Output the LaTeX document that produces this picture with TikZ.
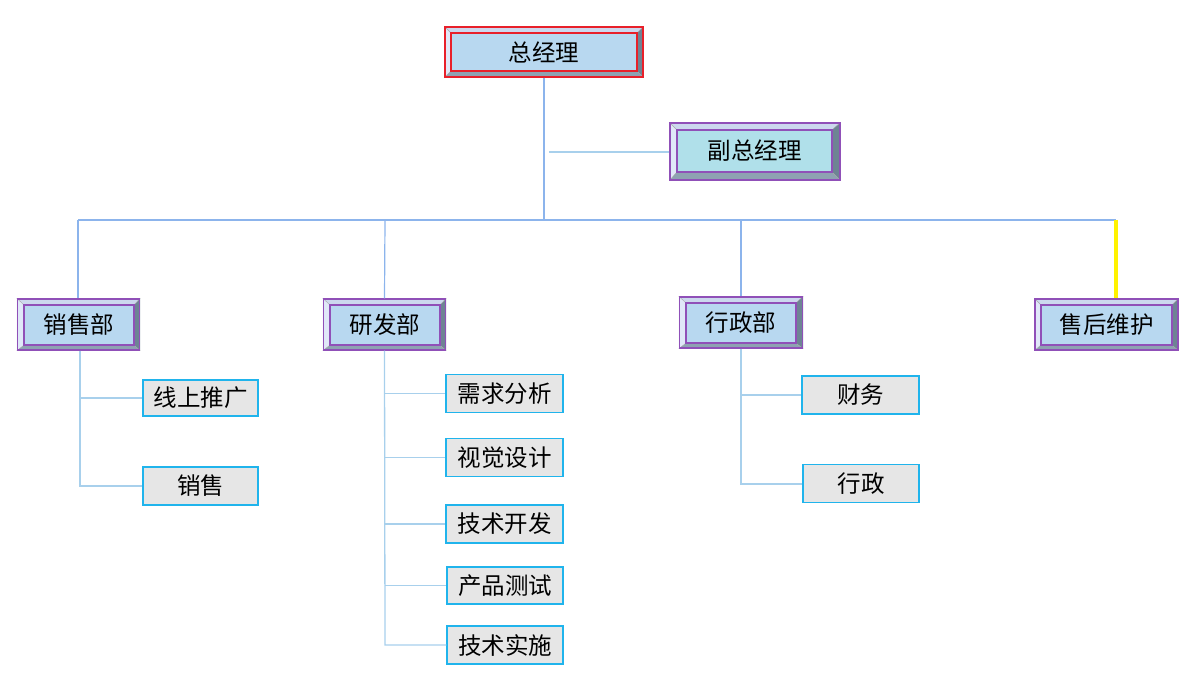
\documentclass[tikz,border=0pt]{standalone}
\usepackage{fontspec}
\setmainfont{Noto Sans CJK SC}
\usetikzlibrary{backgrounds}
\definecolor{bus}{HTML}{8CB4EC}
\definecolor{sub}{HTML}{A8D0EC}
\definecolor{gmred}{HTML}{E8202A}
\definecolor{purp}{HTML}{9050B8}
\definecolor{depfill}{HTML}{B8D8F0}
\definecolor{depfillb}{HTML}{B0E0EA}
\definecolor{leaffill}{HTML}{E6E6E6}
\definecolor{leafline}{HTML}{20B4EC}
\definecolor{bvtop}{HTML}{CCD8EE}
\definecolor{bvleft}{HTML}{E0E8F8}
\definecolor{bvright}{HTML}{6E8494}
\definecolor{bvbot}{HTML}{8EA2B2}
\tikzset{
  outerbox/.style={draw=#1, line width=1.4pt, inner sep=0pt},
  innerbox/.style={draw=#1, line width=1.2pt, inner sep=0pt, font=\fontsize{23.5}{24}\selectfont},
  leafbox/.style={draw=leafline, fill=leaffill, line width=1.3pt, minimum width=116pt, minimum height=38pt, inner sep=0pt, font=\fontsize{23.5}{24}\selectfont},
  busline/.style={draw=bus, line width=1.2pt},
  subline/.style={draw=sub, line width=1.3pt},
}
\newcommand\bevel[1]{%
  \begin{scope}[on background layer]
    \fill[bvtop] (#1o.north west) -- (#1o.north east) -- (#1.north east) -- (#1.north west) -- cycle;
    \fill[bvleft] (#1o.north west) -- (#1.north west) -- (#1.south west) -- (#1o.south west) -- cycle;
    \fill[bvright] (#1o.north east) -- (#1o.south east) -- (#1.south east) -- (#1.north east) -- cycle;
    \fill[bvbot] (#1o.south west) -- (#1.south west) -- (#1.south east) -- (#1o.south east) -- cycle;
    \draw[black!35, line width=0.4pt] (#1o.north west) -- (#1.north west) (#1o.north east) -- (#1.north east)
      (#1o.south west) -- (#1.south west) (#1o.south east) -- (#1.south east);
  \end{scope}}
\begin{document}
\begin{tikzpicture}[x=1pt,y=-1pt]
\useasboundingbox (0,0) rectangle (1200,681);
% general manager
\node[outerbox=gmred, minimum width=198pt, minimum height=50pt] (gmo) at (544,52) {};
\node[innerbox=gmred, fill=depfill, minimum width=186pt, minimum height=38pt] (gm) at (544,52) {总经理};
\bevel{gm}
% deputy
\node[outerbox=purp, minimum width=170pt, minimum height=57pt] (dpo) at (755,151.5) {};
\node[innerbox=purp, fill=depfillb, minimum width=155pt, minimum height=42pt] (dp) at (754.5,151) {副总经理};
\bevel{dp}
% departments
\node[outerbox=purp, minimum width=122pt, minimum height=51pt] (sao) at (78.5,324.5) {};
\node[innerbox=purp, fill=depfill, minimum width=110pt, minimum height=40pt] (sa) at (79,325) {销售部};
\bevel{sa}
\node[outerbox=purp, minimum width=122pt, minimum height=51pt] (rdo) at (384.5,324.5) {};
\node[innerbox=purp, fill=depfill, minimum width=110pt, minimum height=40pt] (rd) at (385,325) {研发部};
\bevel{rd}
\node[outerbox=purp, minimum width=123pt, minimum height=51pt] (ado) at (741,322.5) {};
\node[innerbox=purp, fill=depfill, minimum width=110pt, minimum height=40pt] (ad) at (741,323) {行政部};
\bevel{ad}
\node[outerbox=purp, minimum width=143pt, minimum height=51pt] (aso) at (1106.5,324.5) {};
\node[innerbox=purp, fill=depfill, minimum width=131pt, minimum height=40pt] (as) at (1106.5,325) {售后维护};
\bevel{as}
% leaves
\node[leafbox, minimum width=115pt, minimum height=36pt] (l1) at (200.5,398) {线上推广};
\node[leafbox, minimum width=115pt] (l2) at (200.5,486) {销售};
\node[leafbox, minimum width=117pt] (r1) at (504.5,393.5) {需求分析};
\node[leafbox, minimum width=117pt] (r2) at (504.5,457.5) {视觉设计};
\node[leafbox, minimum width=117pt] (r3) at (504.5,524) {技术开发};
\node[leafbox, minimum height=37pt] (r4) at (505,585.5) {产品测试};
\node[leafbox] (r5) at (505,645) {技术实施};
\node[leafbox, minimum width=117pt] (a1) at (860.5,395) {财务};
\node[leafbox] (a2) at (861,483.5) {行政};
% connectors
\coordinate (bus) at (544,220);
\coordinate (busL) at (78,220);
\coordinate (busR) at (1116,220);
\coordinate (dpstart) at (549,152);
\draw[busline] (gmo.south) -- (bus);
\draw[subline] (dpstart) -- (dpstart -| dpo.west);
\draw[busline] (busL) -- (busR);
\draw[busline] (busL) -- (sao.north -| busL);
\draw[busline] (385,220) -- (rdo.north);
\draw[busline] (741,220) -- (ado.north);
\draw[yellow, line width=4.5pt] (busR) -- (busR |- aso.north);
% sales subtree
\coordinate (sx) at (80,486);
\draw[subline] (sx |- sao.south) -- (sx) -- (l2.west);
\draw[subline] (sx |- l1.west) -- (l1.west);
% R&D subtree
\coordinate (rx) at (385,645);
\draw[subline] (rdo.south) -- (rx) -- (r5.west);
\foreach \n in {r1,r2,r3,r4} \draw[subline] (rx |- \n.west) -- (\n.west);
% admin subtree
\coordinate (ax) at (741,484);
\draw[subline] (ado.south) -- (ax) -- (ax -| a2.west);
\draw[subline] (ax |- a1.west) -- (a1.west);
\end{tikzpicture}
\end{document}
